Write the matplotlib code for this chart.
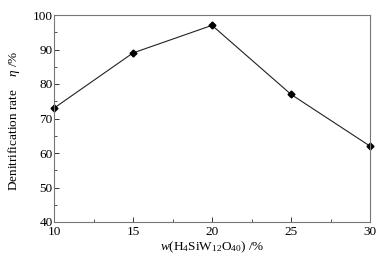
import matplotlib

matplotlib.use("Agg")
import matplotlib.pyplot as plt  # noqa: E402
from matplotlib.ticker import MultipleLocator  # noqa: E402

# loading of H4SiW12O40 (%) vs denitrification rate (%)
loading = [10, 15, 20, 25, 30]
rate = [73, 89, 97, 77, 62]

plt.rcParams["font.family"] = ["Liberation Serif", "DejaVu Serif"]
plt.rcParams["mathtext.fontset"] = "custom"
plt.rcParams["mathtext.rm"] = "Liberation Serif"
plt.rcParams["mathtext.it"] = "Liberation Serif:italic"

fig = plt.figure(figsize=(3.87, 2.63), dpi=100)
ax = fig.add_axes([54 / 387, 1 - 222 / 263, (370 - 54) / 387, (222 - 15) / 263])

ax.plot(loading, rate, "-", color="#222222", linewidth=0.8,
        marker="D", markersize=3.5, markerfacecolor="black",
        markeredgecolor="black", clip_on=False)

ax.set_xlim(10, 30)
ax.set_ylim(40, 100)
ax.xaxis.set_major_locator(MultipleLocator(5))
ax.xaxis.set_minor_locator(MultipleLocator(2.5))
ax.yaxis.set_major_locator(MultipleLocator(10))
ax.yaxis.set_minor_locator(MultipleLocator(5))
ax.tick_params(which="both", direction="in", labelsize=9.5, color="#333333")
ax.tick_params(which="major", length=3.5, width=0.7)
ax.tick_params(which="minor", length=2, width=0.6)
ax.tick_params(axis="x", pad=3)
ax.tick_params(axis="y", pad=1)
for sp in ax.spines.values():
    sp.set_color("#777777")
    sp.set_linewidth(0.8)

ax.set_xlabel(r"$w$(H$_4$SiW$_{12}$O$_{40}$) /%", fontsize=9.5, labelpad=1)
ax.set_ylabel(r"Denitrification rate    $\eta$ /%", fontsize=9.5)
ax.yaxis.set_label_coords(-0.10, 0.49)

fig.savefig("out.png", dpi=100)
